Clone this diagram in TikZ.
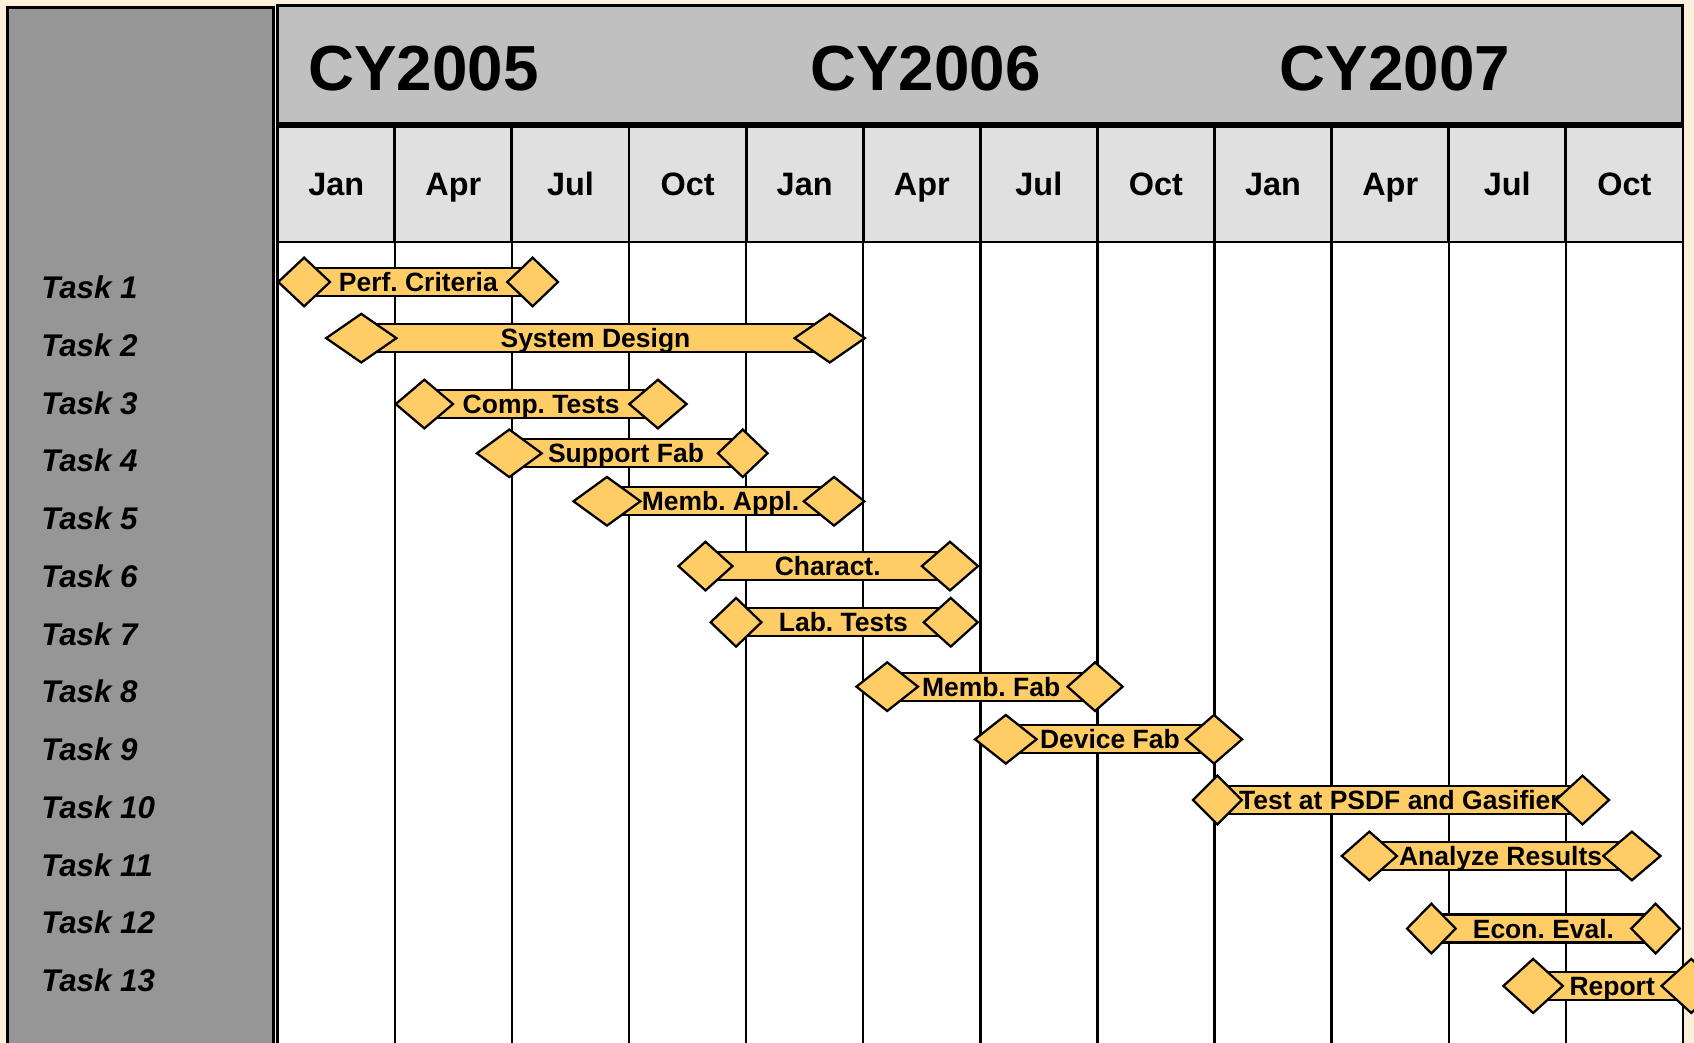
\documentclass[tikz,border=0pt]{standalone}
\usepackage{fontspec}
\setmainfont{Liberation Sans}
\usetikzlibrary{shapes.geometric}
\definecolor{cream}{HTML}{FCF0DA}
\definecolor{panelgray}{HTML}{969696}
\definecolor{headgray}{HTML}{C0C0C0}
\definecolor{monthgray}{HTML}{E0E0E0}
\definecolor{baryellow}{HTML}{FFCC66}
\frenchspacing
\begin{document}
\begin{tikzpicture}[x=1pt,y=-1pt,
  panel/.style={draw=black,line width=2.6pt,fill=panelgray},
  header/.style={draw=black,line width=3pt,fill=headgray},
  yearlabel/.style={font=\fontsize{59}{70}\selectfont\bfseries,text height=42.2pt,text depth=0pt,inner sep=0pt},
  cellbox/.style={draw=black,line width=2.6pt,fill=monthgray,minimum width=108.4pt,minimum height=107pt,inner sep=0pt,outer sep=0pt,
    font=\fontsize{30}{36}\selectfont\bfseries,text height=21.5pt,text depth=0pt},
  gridline/.style={draw=black,line width=2.2pt},
  tasklabel/.style={anchor=west,font=\fontsize{29}{34}\selectfont\bfseries\itshape,text height=20.8pt,text depth=0pt,inner sep=0pt},
  barbox/.style={rectangle,draw=black,line width=2.1pt,fill=baryellow,minimum height=26pt,inner sep=0pt,outer sep=0pt},
  diam/.style={diamond,draw=black,line width=2.1pt,fill=baryellow,inner sep=0pt,outer sep=0pt},
  barlabel/.style={font=\fontsize{24.5}{28}\selectfont\bfseries,text height=17.5pt,text depth=0pt,inner sep=0pt}]
\useasboundingbox (0,0) rectangle (1568,965);
\clip (0,0) rectangle (1568,965);
% background
\fill[cream] (0,0) rectangle (1568,965);
% left panel
\draw[panel] (7,7) rectangle (253,975);
% header
\draw[header] (257,5) rectangle (1557,114);
\node[yearlabel] (y2005) at (392,63) {CY2005};
\node[yearlabel] (y2006) at (856.5,63) {CY2006};
\node[yearlabel] (y2007) at (1291,63) {CY2007};
% grid area
\fill[white] (257,224) rectangle (1558,975);
\foreach \i in {0,...,12}{
  \draw[gridline] ({257+108.4*\i},224) -- ({257+108.4*\i},975);
}
% month cells
\foreach \m [count=\i] in {Jan,Apr,Jul,Oct,Jan,Apr,Jul,Oct,Jan,Apr,Jul,Oct}{
  \node[cellbox] (m\i) at ({257+108.4*(\i-0.5)},170.5) {\m};
}
% task labels
\foreach \i in {1,...,13}{
  \node[tasklabel] (task\i) at (38,{266+53.45*(\i-1)}) {Task \i};
}
% bars
\foreach \n/\xl/\xr/\y/\wl/\wr/\dh/\lab in {
  1/281.5/493/261/48/47/45/Perf. Criteria,
  2/334.4/768/313/65/65/45/System Design,
  3/392.8/609/374/53/53/45/Comp. Tests,
  4/471.4/687.5/419.6/60/46/44/Support Fab,
  5/561.8/772/464/62/56/45/Memb. Appl.,
  6/653/879.3/524/50/52/45/Charact.,
  7/681.3/880/576/47/50/45/Lab. Tests,
  8/821.2/1013.6/635.6/57/51/45/Memb. Fab,
  9/931/1123.7/684.3/57/52/45/Device Fab,
  10/1126.8/1464.8/740.5/45/49/45/Test at PSDF and Gasifier,
  11/1267.5/1510.5/792.3/51/53/45/Analyze Results,
  12/1324.9/1532.4/859.5/45/45/46/Econ. Eval.,
  13/1419.1/1565.4/912.6/55/55/50/Report}{
  \pgfmathsetmacro\bw{\xr-\xl}
  \pgfmathsetmacro\xm{(\xl+\xr)/2}
  \node[barbox,minimum width=\bw pt] (b\n) at (\xm,\y) {};
  \node[diam,minimum width=\wl pt,minimum height=\dh pt] (dl\n) at (\xl,\y) {};
  \node[barlabel] (t\n) at (\xm,\y) {\lab};
  \node[diam,minimum width=\wr pt,minimum height=\dh pt] (dr\n) at (\xr,\y) {};
}
\end{tikzpicture}
\end{document}
